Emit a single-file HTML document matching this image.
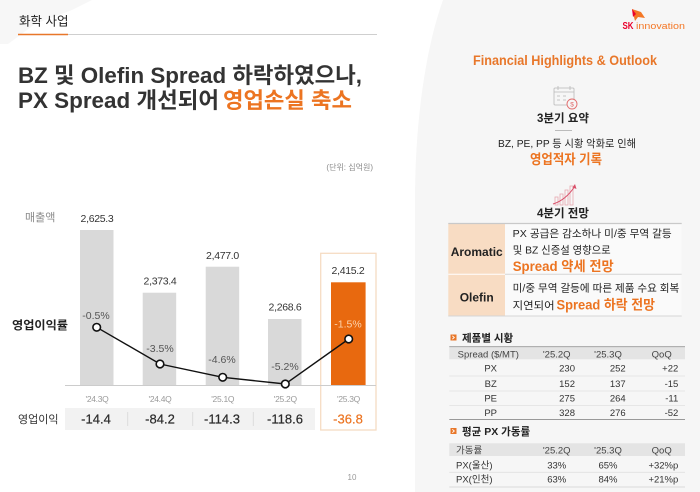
<!DOCTYPE html>
<html><head><meta charset="utf-8"><style>
html,body{margin:0;padding:0;background:#fff;}
svg{display:block;font-family:"Liberation Sans","Noto Sans CJK KR",sans-serif;}
</style></head><body>
<svg width="700" height="492" viewBox="0 0 700 492" xmlns="http://www.w3.org/2000/svg">
<rect width="700" height="492" fill="#fff"/>
<!-- faint top-left shape -->
<polygon points="0,0 92,0 72,10 35,24 8,44 0,44" fill="#f7f7f7"/>
<!-- right panel -->
<path d="M415,492 L415,200 A77.6,260 0 0 1 492.6,-60 L700,-60 L700,492 Z" fill="#f6f6f6"/>

<!-- header -->
<text x="19" y="25.5" font-size="12.5" fill="#222">화학 사업</text>
<line x1="18" y1="34.5" x2="377" y2="34.5" stroke="#cfcfcf" stroke-width="1"/>
<line x1="18" y1="34.5" x2="68" y2="34.5" stroke="#e8772a" stroke-width="1.6"/>

<!-- title -->
<text x="18" y="83" font-size="22" font-weight="bold" fill="#333" textLength="344" lengthAdjust="spacingAndGlyphs">BZ 및 Olefin Spread 하락하였으나,</text>
<text x="18" y="108" font-size="22" font-weight="bold" fill="#333" textLength="201" lengthAdjust="spacingAndGlyphs">PX Spread 개선되어</text>
<text x="223" y="108" font-size="22" font-weight="bold" fill="#ec7421" textLength="129" lengthAdjust="spacingAndGlyphs">영업손실 축소</text>

<!-- unit -->
<text x="373" y="170" font-size="8" fill="#8a8a8a" text-anchor="end">(단위: 십억원)</text>

<!-- labels -->
<text x="25" y="221" font-size="11" fill="#8a8a8a">매출액</text>
<text x="12" y="329" font-size="11.5" fill="#222" font-weight="bold" textLength="56" lengthAdjust="spacingAndGlyphs">영업이익률</text>
<text x="18" y="423" font-size="11" fill="#333">영업이익</text>

<!-- highlight box -->
<rect x="320.7" y="253.3" width="55.3" height="176.7" fill="none" stroke="#f5dcc4" stroke-width="1.3"/>

<!-- bars -->
<rect x="80" y="230" width="33.5" height="155.5" fill="#d9d9d9"/>
<rect x="142.7" y="292.7" width="33.5" height="92.8" fill="#d9d9d9"/>
<rect x="205.7" y="266.7" width="33.5" height="118.8" fill="#d9d9d9"/>
<rect x="268" y="319" width="33.5" height="66.5" fill="#d9d9d9"/>
<rect x="331" y="282.3" width="34.6" height="103.2" fill="#e8690f"/>
<line x1="65" y1="385.5" x2="376" y2="385.5" stroke="#cccccc" stroke-width="1"/>

<!-- bar values -->
<g font-size="10.5" fill="#333" text-anchor="middle" letter-spacing="-0.3">
<text x="97" y="222">2,625.3</text>
<text x="160" y="284.5">2,373.4</text>
<text x="222.5" y="259">2,477.0</text>
<text x="285" y="310.5">2,268.6</text>
<text x="348" y="274">2,415.2</text>
</g>

<!-- percent labels -->
<g font-size="10.5" fill="#555" text-anchor="middle">
<text x="96" y="319">-0.5%</text>
<text x="160" y="352">-3.5%</text>
<text x="222" y="363">-4.6%</text>
<text x="285" y="370">-5.2%</text>
<text x="348" y="327.5" fill="#fcd3ae">-1.5%</text>
</g>

<!-- line -->
<polyline points="96.7,327.3 160,364 222.7,377.3 285.3,384 348.7,339" fill="none" stroke="#111" stroke-width="1.4"/>
<g fill="#fff" stroke="#111" stroke-width="1.6">
<circle cx="96.7" cy="327.3" r="3.8"/>
<circle cx="160" cy="364" r="3.8"/>
<circle cx="222.7" cy="377.3" r="3.8"/>
<circle cx="285.3" cy="384" r="3.8"/>
<circle cx="348.7" cy="339" r="3.8"/>
</g>

<!-- x labels -->
<g font-size="8.5" fill="#9a9a9a" text-anchor="middle" letter-spacing="-0.3">
<text x="97" y="402">'24.3Q</text>
<text x="160" y="402">'24.4Q</text>
<text x="222.7" y="402">'25.1Q</text>
<text x="285.3" y="402">'25.2Q</text>
<text x="348.5" y="402">'25.3Q</text>
</g>

<!-- op income row -->
<rect x="65" y="408" width="250" height="22" fill="#f2f2f2"/>
<g stroke="#dcdcdc" stroke-width="1">
<line x1="127.7" y1="412" x2="127.7" y2="426"/>
<line x1="192.7" y1="412" x2="192.7" y2="426"/>
<line x1="253.3" y1="412" x2="253.3" y2="426"/>
</g>
<g font-size="13" fill="#2a2a2a" text-anchor="middle" stroke="#2a2a2a" stroke-width="0.2">
<text x="96" y="423.5">-14.4</text>
<text x="160" y="423.5">-84.2</text>
<text x="222" y="423.5">-114.3</text>
<text x="285" y="423.5">-118.6</text>
<text x="348" y="423.5" fill="#ec7421" stroke="#ec7421">-36.8</text>
</g>

<text x="352" y="480" font-size="8" fill="#999" text-anchor="middle">10</text>

<!-- SK logo -->
<polygon points="632,9 641,12 645,18 638,17 635,21" fill="#f47725"/>
<polygon points="632,9 636,14 633,17" fill="#ea002c"/>
<text x="622.5" y="29" font-size="10.5" font-weight="bold" fill="#ea002c" textLength="11" lengthAdjust="spacingAndGlyphs">SK</text>
<text x="636" y="29" font-size="9" fill="#f47725" textLength="49" lengthAdjust="spacingAndGlyphs">innovation</text>

<!-- right panel content -->
<text x="565" y="65" font-size="13.5" font-weight="bold" fill="#e8772a" text-anchor="middle" textLength="184" lengthAdjust="spacingAndGlyphs">Financial Highlights &amp; Outlook</text>

<!-- calendar icon -->
<g fill="none" stroke="#b8b8b8" stroke-width="0.8">
<rect x="554" y="88" width="20" height="17" rx="1"/>
<line x1="554" y1="92" x2="574" y2="92"/>
<line x1="558" y1="86" x2="558" y2="90"/>
<line x1="570" y1="86" x2="570" y2="90"/>
<line x1="557" y1="96" x2="560" y2="96"/><line x1="563" y1="96" x2="566" y2="96"/>
<line x1="557" y1="100" x2="560" y2="100"/><line x1="563" y1="100" x2="566" y2="100"/>
</g>
<circle cx="572" cy="104" r="5" fill="#f6f6f6" stroke="#e26b6b" stroke-width="0.9"/>
<text x="572" y="106.5" font-size="6.5" fill="#e26b6b" text-anchor="middle">$</text>

<text x="563" y="122" font-size="11.5" font-weight="bold" fill="#222" text-anchor="middle">3분기 요약</text>
<line x1="555" y1="130.5" x2="572" y2="130.5" stroke="#bbb" stroke-width="1"/>
<text x="567" y="147" font-size="10.5" fill="#222" text-anchor="middle" textLength="138" lengthAdjust="spacingAndGlyphs">BZ, PE, PP 등 시황 악화로 인해</text>
<text x="566" y="164" font-size="13.5" font-weight="bold" fill="#ec7421" text-anchor="middle" textLength="72" lengthAdjust="spacingAndGlyphs">영업적자 기록</text>

<!-- growth icon -->
<g fill="none" stroke="#e8a9b0" stroke-width="0.8">
<rect x="555" y="197" width="3" height="8"/>
<rect x="560" y="194" width="3" height="11"/>
<rect x="565" y="190" width="3" height="15"/>
<rect x="570" y="186" width="3" height="19"/>
</g>
<path d="M553,204 Q566,200 575,186" fill="none" stroke="#d9506a" stroke-width="1"/>
<polygon points="575,184 576.5,189 572.5,187.5" fill="#d9506a"/>

<text x="563" y="217" font-size="11.5" font-weight="bold" fill="#222" text-anchor="middle">4분기 전망</text>

<!-- outlook table -->
<rect x="448.3" y="223.3" width="56.7" height="92.7" fill="#f8dcc3"/>
<rect x="505" y="223.3" width="176.7" height="92.7" fill="#fafafa"/>
<line x1="448.3" y1="223.5" x2="681.7" y2="223.5" stroke="#c9c9c9" stroke-width="1.2"/>
<line x1="448.3" y1="274.3" x2="505" y2="274.3" stroke="#fff" stroke-width="1"/>
<line x1="505" y1="274.3" x2="681.7" y2="274.3" stroke="#d5d5d5" stroke-width="1"/>
<line x1="448.3" y1="316" x2="681.7" y2="316" stroke="#d5d5d5" stroke-width="1"/>
<text x="476.7" y="256" font-size="12" font-weight="bold" fill="#222" text-anchor="middle">Aromatic</text>
<text x="476.7" y="301.5" font-size="12" font-weight="bold" fill="#222" text-anchor="middle">Olefin</text>
<text x="512.7" y="237" font-size="10.5" fill="#222" textLength="159" lengthAdjust="spacingAndGlyphs">PX 공급은 감소하나  미/중 무역 갈등</text>
<text x="512.7" y="253.3" font-size="10.5" fill="#222" textLength="98" lengthAdjust="spacingAndGlyphs">및 BZ 신증설 영향으로</text>
<text x="512.7" y="271" font-size="13.5" font-weight="bold" fill="#ec7421" textLength="101" lengthAdjust="spacingAndGlyphs">Spread 약세 전망</text>
<text x="512.7" y="291.3" font-size="10.5" fill="#222" textLength="166.6" lengthAdjust="spacingAndGlyphs">미/중 무역 갈등에 따른 제품 수요 회복</text>
<text x="512.7" y="308.8" font-size="10.5" fill="#222" textLength="42" lengthAdjust="spacingAndGlyphs">지연되어</text>
<text x="556.5" y="309.3" font-size="13.5" font-weight="bold" fill="#ec7421" textLength="98.5" lengthAdjust="spacingAndGlyphs">Spread 하락 전망</text>

<!-- spread table -->
<rect x="450.5" y="334.5" width="6" height="6" fill="#e8772a"/>
<polyline points="452.3,335.8 454.3,337.5 452.3,339.2" fill="none" stroke="#fff" stroke-width="0.9"/>
<text x="462" y="341.5" font-size="10.5" font-weight="bold" fill="#222">제품별 시황</text>
<rect x="449.3" y="346.7" width="235.7" height="12.6" fill="#e4e4e4"/>
<line x1="449.3" y1="346.7" x2="685" y2="346.7" stroke="#999" stroke-width="0.9"/>
<g font-size="9.5" fill="#444" text-anchor="middle">
<text x="488.3" y="357.5">Spread ($/MT)</text>
<text x="556.7" y="357.5">'25.2Q</text>
<text x="608" y="357.5">'25.3Q</text>
<text x="661.7" y="357.5">QoQ</text>
</g>
<g stroke="#e0e0e0" stroke-width="0.8">
<line x1="449.3" y1="376" x2="685" y2="376"/>
<line x1="449.3" y1="391" x2="685" y2="391"/>
<line x1="449.3" y1="405.5" x2="685" y2="405.5"/>
</g>
<line x1="449.3" y1="419.5" x2="685" y2="419.5" stroke="#999" stroke-width="0.9"/>
<g font-size="9.5" fill="#333">
<g text-anchor="middle">
<text x="490.7" y="371.5">PX</text>
<text x="490.7" y="387.2">BZ</text>
<text x="490.7" y="401.5">PE</text>
<text x="490.7" y="415.9">PP</text>
</g>
<g text-anchor="end">
<text x="575" y="371.5">230</text><text x="625.7" y="371.5">252</text><text x="678.3" y="371.5">+22</text>
<text x="575" y="387.2">152</text><text x="625.7" y="387.2">137</text><text x="678.3" y="387.2">-15</text>
<text x="575" y="401.5">275</text><text x="625.7" y="401.5">264</text><text x="678.3" y="401.5">-11</text>
<text x="575" y="415.9">328</text><text x="625.7" y="415.9">276</text><text x="678.3" y="415.9">-52</text>
</g>
</g>

<!-- utilization table -->
<rect x="450.5" y="428" width="6" height="6" fill="#e8772a"/>
<polyline points="452.3,429.3 454.3,431 452.3,432.7" fill="none" stroke="#fff" stroke-width="0.9"/>
<text x="462" y="435" font-size="10.5" font-weight="bold" fill="#222">평균 PX 가동률</text>
<rect x="449.3" y="443.3" width="235.7" height="12.7" fill="#e4e4e4"/>
<g font-size="9.5" fill="#444">
<text x="456" y="453.5">가동률</text>
<g text-anchor="middle">
<text x="556.7" y="453.5">'25.2Q</text>
<text x="608" y="453.5">'25.3Q</text>
<text x="661.7" y="453.5">QoQ</text>
</g>
</g>
<line x1="449.3" y1="472.3" x2="685" y2="472.3" stroke="#e0e0e0" stroke-width="0.8"/>
<line x1="449.3" y1="487" x2="685" y2="487" stroke="#d0d0d0" stroke-width="0.8"/>
<g font-size="9.5" fill="#333">
<text x="456" y="468.3">PX(울산)</text>
<text x="456" y="482.6">PX(인천)</text>
<g text-anchor="middle">
<text x="556.7" y="468.3">33%</text><text x="608" y="468.3">65%</text>
<text x="556.7" y="482.6">63%</text><text x="608" y="482.6">84%</text>
</g>
<g text-anchor="end">
<text x="678.3" y="468.3">+32%p</text>
<text x="678.3" y="482.6">+21%p</text>
</g>
</g>
</svg>
</body></html>
